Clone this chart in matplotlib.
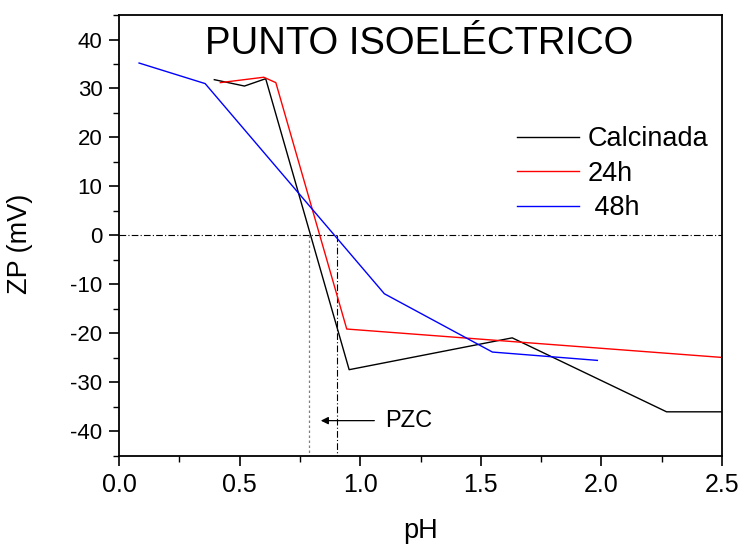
import matplotlib
matplotlib.use("Agg")
import matplotlib.pyplot as plt
from matplotlib.ticker import MultipleLocator

plt.rcParams["font.family"] = ["Liberation Sans", "DejaVu Sans"]
plt.rcParams["axes.unicode_minus"] = False

# Data
calc_ph = [0.395, 0.52, 0.608, 0.954, 1.63, 2.27, 2.5]
calc_zp = [31.8, 30.5, 32.0, -27.4, -20.9, -36.0, -36.0]

h24_ph = [0.42, 0.60, 0.65, 0.944, 2.5]
h24_zp = [31.2, 32.3, 31.2, -19.1, -24.9]

h48_ph = [0.083, 0.357, 1.10, 1.548, 1.983]
h48_zp = [35.2, 31.0, -11.9, -23.8, -25.5]

pzc_calc = 0.788
pzc_48 = 0.902

fig = plt.figure(figsize=(7.44, 5.46), dpi=100)
ax = fig.add_axes([0.16, 0.165, 0.8105, 0.8075])

ax.plot(calc_ph, calc_zp, color="black", lw=1.0, label="Calcinada")
ax.plot(h24_ph, h24_zp, color="red", lw=1.0, label="24h")
ax.plot(h48_ph, h48_zp, color="blue", lw=1.0, label=" 48h")

# reference lines
ax.axhline(0, color="black", lw=0.8, ls=(0, (6, 2, 1, 2)), zorder=1)
ax.plot([pzc_calc, pzc_calc], [0, -45], color="gray", lw=0.9, ls=(0, (2, 2)), zorder=1)
ax.plot([pzc_48, pzc_48], [0, -45], color="black", lw=0.8, ls=(0, (6, 2, 1, 2)), zorder=1)

ax.annotate("", xy=(0.825, -37.8), xytext=(1.07, -37.8),
            arrowprops=dict(arrowstyle="-|>", color="black", lw=0.9,
                            mutation_scale=11))
ax.text(1.103, -37.8, "PZC", fontsize=17, va="center", ha="left")

ax.text(0.4975, 0.912, "PUNTO ISOELÉCTRICO", transform=ax.transAxes,
        fontsize=27.5, ha="center", va="baseline")

ax.set_xlim(0, 2.5)
ax.set_ylim(-45, 45)
ax.xaxis.set_major_locator(MultipleLocator(0.5))
ax.xaxis.set_minor_locator(MultipleLocator(0.25))
ax.yaxis.set_major_locator(MultipleLocator(10))
ax.yaxis.set_minor_locator(MultipleLocator(5))
ax.set_xticks([0.0, 0.5, 1.0, 1.5, 2.0, 2.5])
ax.set_xticklabels(["0.0", "0.5", "1.0", "1.5", "2.0", "2.5"])

ax.tick_params(which="major", direction="out", length=7, width=1.2, pad=5,
               top=False, right=False)
ax.tick_params(which="minor", direction="out", length=4, width=1.0,
               top=False, right=False)
ax.tick_params(axis="x", labelsize=18)
ax.tick_params(axis="y", labelsize=16)
for s in ax.spines.values():
    s.set_linewidth(1.3)

ax.set_xlabel("pH", fontsize=19.5)
ax.set_ylabel("ZP (mV)", fontsize=19.5)
ax.xaxis.set_label_coords(0.5, -0.14)
ax.yaxis.set_label_coords(-0.143, 0.48)

leg = ax.legend(loc="upper left", bbox_to_anchor=(0.66, 0.748), frameon=False,
                fontsize=19.5, handlelength=2.3, handletextpad=0.3,
                labelspacing=0.32, borderaxespad=0, borderpad=0)

fig.savefig("out.png", dpi=100)
